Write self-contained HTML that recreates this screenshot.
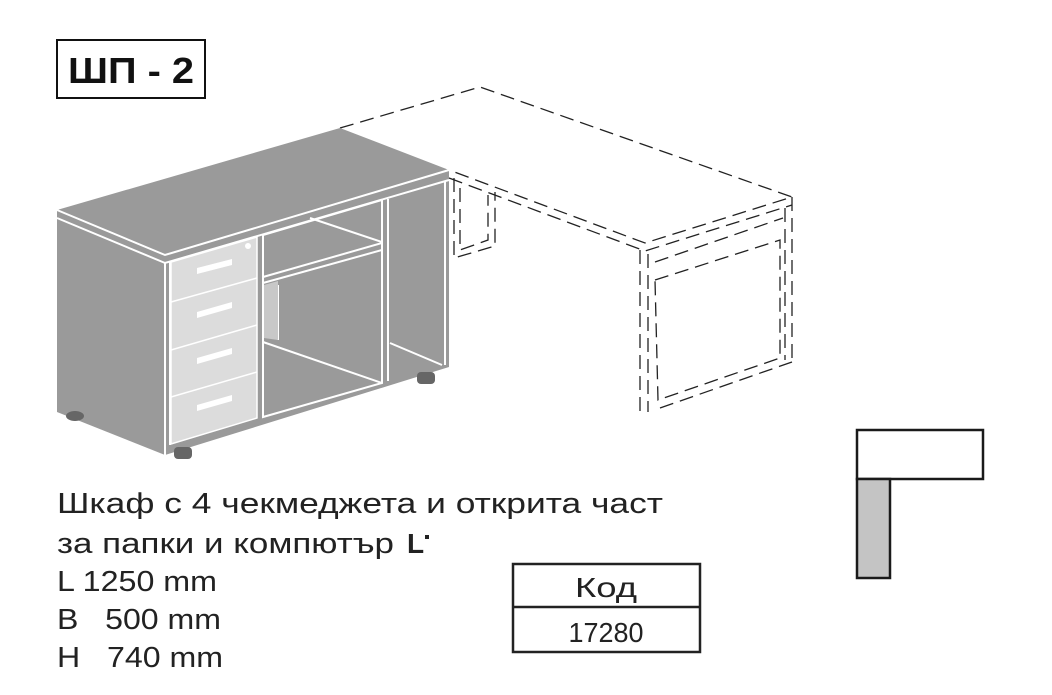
<!DOCTYPE html>
<html><head><meta charset="utf-8"><style>
body{margin:0;background:#fff;width:1052px;height:690px;overflow:hidden;font-family:"Liberation Sans",sans-serif}
</style></head><body>
<svg width="1052" height="690" viewBox="0 0 1052 690" xmlns="http://www.w3.org/2000/svg">
<!-- title -->
<rect x="57" y="40" width="148" height="58" fill="#fff" stroke="#111" stroke-width="2"/>
<text x="131" y="83" font-size="36" font-weight="bold" text-anchor="middle" font-family="Liberation Sans, sans-serif" fill="#111" textLength="126" lengthAdjust="spacingAndGlyphs">ШП - 2</text>

<!-- dashed desk -->
<g fill="none" stroke="#222" stroke-width="1.3" stroke-dasharray="14,7">
<polyline points="340,128 480,87 792,197 645,243 449,170"/>
<polyline points="449,178 645,251 792,205"/>
<line x1="792" y1="197" x2="792" y2="365"/>
<line x1="785" y1="208" x2="785" y2="360"/>
<line x1="640" y1="250" x2="640" y2="412"/>
<line x1="648" y1="254" x2="648" y2="412"/>
<polyline points="655,262 783,218"/>
<polyline points="655,280 780,240 780,358 658,400 655,280"/>
<polyline points="660,408 792,362"/>
<polyline points="454,178 454,258 495,246 495,192"/>
<polyline points="460,188 460,250 488,240 488,195"/>
</g>

<!-- cabinet -->
<polygon points="57,210 340,128 449,170 449,367 165,455 57,412" fill="#9a9a9a"/>
<g stroke="#fff" stroke-width="2" fill="none">
<polyline points="57,210 165,255 449,170"/>
<polyline points="57,218 165,263 449,180"/>
<line x1="165" y1="263" x2="165" y2="455"/>
<line x1="170" y1="262" x2="170" y2="445"/>
<line x1="445" y1="182" x2="445" y2="365"/>
</g>
<!-- drawers -->
<polygon points="171,262 257,237 257,418 171,444" fill="#dcdcdc" stroke="#fff" stroke-width="1.5"/>
<g stroke="#fff" stroke-width="1.5">
<line x1="171" y1="302" x2="257" y2="278"/>
<line x1="171" y1="350" x2="257" y2="325"/>
<line x1="171" y1="397" x2="257" y2="372"/>
</g>
<g fill="#fff">
<polygon points="197,268 232,259 232,265 197,274"/>
<polygon points="197,312 232,302 232,308 197,318"/>
<polygon points="197,358 232,348 232,354 197,364"/>
<polygon points="197,405 232,395 232,401 197,411"/>
</g>
<circle cx="248" cy="246" r="3" fill="#fff"/>
<!-- open section -->
<g stroke="#fff" stroke-width="2" fill="none">
<polygon points="263,235 382,200 382,383 263,417"/>
<line x1="388" y1="199" x2="388" y2="381"/>
<line x1="263" y1="277" x2="382" y2="243"/>
<line x1="263" y1="283" x2="382" y2="250"/>
<line x1="310" y1="218" x2="382" y2="242"/>
<line x1="263" y1="342" x2="382" y2="383"/>
<line x1="390" y1="343" x2="442" y2="365"/>
<line x1="278" y1="285" x2="278" y2="340"/>
</g>
<polygon points="264,285 278,281 278,340 264,338" fill="#c8c8c8"/>
<!-- feet -->
<g fill="#666">
<ellipse cx="75" cy="416" rx="9" ry="5"/>
<rect x="174" y="447" width="18" height="12" rx="4"/>
<rect x="417" y="372" width="18" height="12" rx="4"/>
</g>

<!-- text -->
<g font-family="Liberation Sans, sans-serif" font-size="29" fill="#222">
<text x="57" y="513" textLength="606" lengthAdjust="spacingAndGlyphs">Шкаф с 4 чекмеджета и открита част</text>
<text x="57" y="553" textLength="337" lengthAdjust="spacingAndGlyphs">за папки и компютър</text>
<text x="57" y="591" textLength="160" lengthAdjust="spacingAndGlyphs">L 1250 mm</text>
<text x="57" y="629" textLength="164" lengthAdjust="spacingAndGlyphs">B&#160;&#160;&#160;500 mm</text>
<text x="57" y="667" textLength="166" lengthAdjust="spacingAndGlyphs">H&#160;&#160;&#160;740 mm</text>
</g>
<text x="407" y="553" font-size="28" font-weight="bold" fill="#222" font-family="Liberation Sans, sans-serif">L</text>
<rect x="425" y="535" width="4" height="4" fill="#222"/>

<!-- table -->
<rect x="513" y="564" width="187" height="88" fill="#fff" stroke="#222" stroke-width="2.5"/>
<line x1="513" y1="607" x2="700" y2="607" stroke="#222" stroke-width="2.5"/>
<text x="606" y="597" font-size="28" text-anchor="middle" fill="#222" font-family="Liberation Sans, sans-serif" textLength="62" lengthAdjust="spacingAndGlyphs">Код</text>
<text x="606" y="642" font-size="28" text-anchor="middle" fill="#222" font-family="Liberation Sans, sans-serif" textLength="75" lengthAdjust="spacingAndGlyphs">17280</text>

<!-- L symbol -->
<rect x="857" y="430" width="126" height="49" fill="#fff" stroke="#1a1a1a" stroke-width="2.5"/>
<rect x="857" y="479" width="33" height="99" fill="#c4c4c4" stroke="#1a1a1a" stroke-width="2.5"/>
</svg>
</body></html>
